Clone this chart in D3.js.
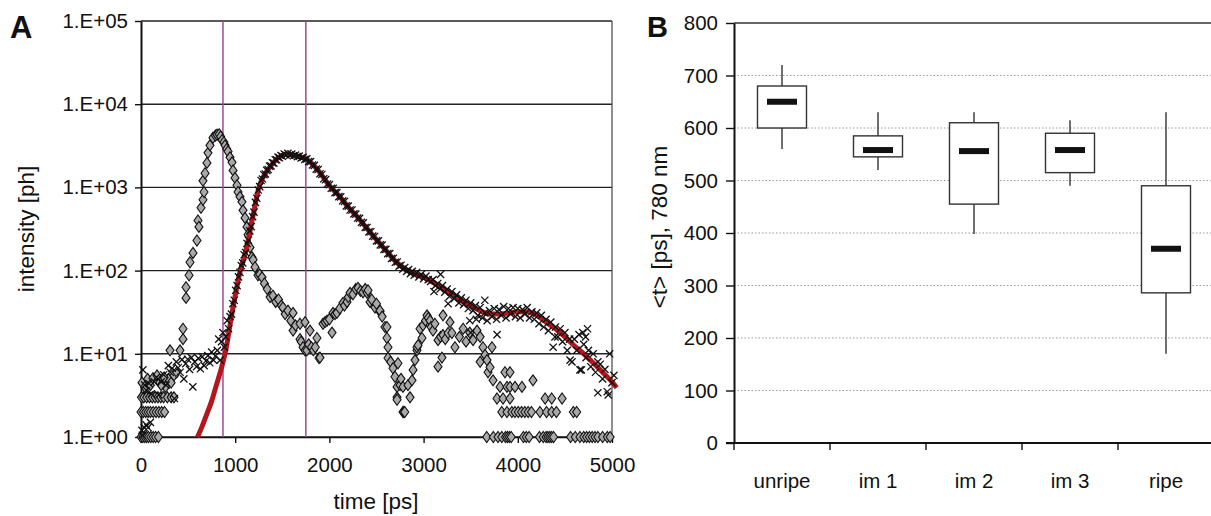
<!DOCTYPE html>
<html><head><meta charset="utf-8">
<script src="https://cdn.jsdelivr.net/npm/d3@7"></script>
<style>
html,body{margin:0;padding:0;background:#fff;}
svg{display:block;font-family:"Liberation Sans",Arial,sans-serif;}
</style></head>
<body>
<svg id="chart" width="1211" height="516"></svg>
<script>
// ---------- Panel A data ----------
const yTicksA = [1, 10, 100, 1000, 10000, 100000];
const yTickLabelsA = ["1.E+00", "1.E+01", "1.E+02", "1.E+03", "1.E+04", "1.E+05"];
const xTicksA = [0, 1000, 2000, 3000, 4000, 5000];
const markerTimes = [870, 1750];

// instrument response (grey diamonds): [time ps, photons]
const irf = [
[0,1],[20,1],[40,1],[60,1],[80,1],[105,1],[130,1],[155,1],[185,1],
[0,2],[25,2],[50,2],[75,2],[100,2],[130,2],[160,2],[190,2],[220,2],[250,2],
[5,3],[30,3],[60,3],[90,3],[120,3],[150,3],[180,3],[210,3],[240,3],[280,3],[320,3],[350,3],
[10,4.5],[40,4],[70,5],[100,4.2],[127,5.1],[170,5.5],[200,4.5],[230,5],[260,4],[290,5],[320,4.5],[350,5.5],[380,6],[215,4.2],[245,5.2],
[308,11],[414,11],[446,15],[446,20],[478,47],[478,63],[510,88],[520,126],[552,163],[594,230],[605,400],[615,335],[637,570],[658,710],[669,880],[658,1200],[680,1480],[700,1970],[711,2600],[732,3200],[764,3950],[790,4200],[807,4300],[830,4350],[845,4100],
[860,3700],[880,3500],[892,3200],[910,2900],[924,2700],[945,2300],[966,2000],[977,1600],[998,1300],[1019,1060],[1030,880],[1051,770],[1072,670],[1083,530],[1104,430],[1125,335],[1136,270],[1157,190],[1178,145],[1190,135],[1210,110],[1242,88],[1260,90],[1285,83],[1310,70],[1340,60],[1370,48],[1400,50],[1430,42],[1460,45],[1490,38],[1507,36],[1530,30],[1560,33],[1590,25],[1614,19],[1614,31],[1640,22],[1688,23],[1688,15],[1700,14],[1720,12],[1741,11],[1741,24],[1760,11],[1780,13],[1794,19],[1810,12],[1830,11],[1850,12],[1868,15.5],[1890,8.9],[1900,9],
[1932,23],[1953,24],[1974,25],[2000,26],[2028,18],[2038,31],[2060,30],[2080,31],[2110,35],[2144,41],[2160,38],[2187,42],[2200,48],[2219,54],[2250,52],[2280,60],[2304,62],[2330,57],[2357,55],[2380,60],[2400,54],[2410,58],[2431,42],[2450,45],[2484,36],[2500,40],[2537,32],[2537,33],[2560,28],[2590,21],[2611,15.5],[2611,21],[2622,12],[2622,8.9],[2650,8],[2675,6.7],[2696,5.3],[2718,4],[2718,3],[2718,2.8],[2728,7.7],[2750,4.2],[2760,5],[2781,4],[2781,2],[2790,2],[2800,2],[2834,4.2],[2856,3],[2877,4.8],[2888,6.4],[2909,8.4],[2930,11],[2930,12],[2941,12.7],[2962,20],[2983,15.5],[2994,22],
[3020,25],[3036,29],[3050,27],[3068,25],[3080,21],[3100,19],[3120,23],[3153,14.6],[3153,7],[3180,16],[3195,9],[3206,16.8],[3206,29],[3230,15],[3260,17.8],[3280,24],[3300,17.8],[3333,12],[3380,16],[3420,20],[3450,14],[3490,18],[3525,14.6],[3567,19],[3600,16],[3600,8],[3630,12],[3652,9.7],[3673,8.4],[3684,6],[3705,6.9],[3726,12],[3737,4.8],[3779,2.9],[3811,4],[3843,2.9],[3864,6],[3885,4],[3917,4],[3917,2.9],[3917,6],[3970,4],[4044,4],[4161,4.8],[4290,2.9],[4360,2.9],[4470,2.9],
[3830,2],[3885,2],[3937,2],[3970,2],[4005,2],[4040,2],[4075,2],[4110,2],[4145,2],[4235,2],[4305,2],[4360,2],[4410,2],[4590,2],[4625,2],
[3670,1],[3740,1],[3790,1],[3830,1],[3870,1],[3890,1],[3910,1],[3930,1],[4060,1],[4090,1],[4120,1],[4230,1],[4270,1],[4300,1],[4320,1],[4340,1],[4360,1],[4380,1],[4560,1],[4610,1],[4660,1],[4700,1],[4730,1],[4760,1],[4790,1],[4820,1],[4850,1],[4900,1],[4950,1],[4980,1]
];

// measured fluorescence decay (black crosses): [time ps, photons]
const measured = [
[10,1.2],[35,1.3],[55,1.4],[75,1.3],[100,1.5],[15,1.05],[20,6.4],[40,4.2],[60,3.6],[85,4.4],[110,3.3],[140,4.6],[165,5.2],[190,3.2],[215,4.6],[240,5.6],[265,4.2],[290,7.2],[310,6],[330,6.7],[355,2.9],[375,8],[395,6.8],[415,6],[435,8.5],[455,5],[475,7.6],[495,8.6],[515,6.5],[535,9],[550,4],[570,8],[590,7],[610,8.8],[630,6.6],[650,9.2],[670,7.2],[690,8.2],[710,9.5],[730,7.8],[750,10.5],[770,8.4],[790,9.4],[810,11],[825,15],[840,8.4],[855,14],[870,18],[885,12],[900,16],[915,25],[930,20],[945,28],
[960,30],[975,40],[990,44],[1005,58],[1020,66],[1035,84],[1050,95],[1065,115],[1080,124],[1095,155],[1110,165],[1125,212],[1140,232],[1155,300],[1170,338],[1185,445],[1200,505],[1215,660],[1230,740],[1245,930],[1260,1020],[1275,1210],[1290,1260],[1305,1420],[1320,1450],[1335,1600],[1350,1640],[1365,1800],[1380,1810],[1395,1980],[1410,1960],[1425,2150],[1440,2150],[1455,2310],[1470,2270],[1485,2420],[1500,2370],[1520,2520],[1540,2450],[1560,2570],[1580,2440],[1600,2510],[1620,2400],[1640,2450],[1660,2340],[1680,2380],[1700,2260],[1720,2300],[1740,2170],[1760,2200],[1780,2040],[1800,2040],[1820,1860],[1840,1840],[1860,1660],[1880,1640],[1900,1460],[1920,1430],[1940,1270],[1960,1240],[1980,1100],[2000,1080],[2020,975],[2040,975],[2060,865],[2080,865],[2100,775],[2120,770],[2140,690],[2160,680],[2180,600],[2200,595],[2220,535],[2240,535],[2260,480],[2280,478],[2300,428],[2320,425],[2340,380],[2360,375],[2380,330],[2400,330],[2420,292],[2440,293],[2460,260],[2480,257],[2500,228],[2520,228],[2540,204],[2560,203],[2580,180],[2600,180],[2620,160],[2640,160],[2660,140],[2680,141],[2700,126],[2720,127],[2740,113],[2760,116],[2780,104],[2800,109],[2820,98],[2840,103],[2860,92],[2880,98],[2900,88],[2925,95],[2950,84],[2975,90],[3000,80],
[3025,86],[3050,78],[3075,74],[3100,78],[3125,66],[3150,70],[3175,60],[3200,66],[3225,55],[3250,60],[3275,49],[3300,56],[3325,46],[3350,51],[3375,41],[3400,47],[3425,39],[3450,44],[3475,35],[3500,41],[3525,33],[3550,38],[3575,29],[3600,36],[3625,27],[3650,31],[3675,25],[3700,33],[3725,28],[3750,35],[3775,26],[3800,34],[3825,29],[3850,37],[3875,27],[3900,35],[3925,30],[3950,36],[3975,28],[4000,35],[4025,27],[4050,34],[4075,30],[4100,36],[4125,27],[4150,32],[4175,26],[4200,31],[4225,23],[4250,29],[4275,21],[4300,26],[4325,19],[4350,24],[4375,12],[4400,21],[4425,16],[4450,20],[4475,14],[4500,18],[4525,11],[4550,15],[4575,8],[4600,15],[4625,11],[4650,17],[4675,6.4],[4700,13],[4725,9],[4750,11],[4775,7],[4800,10],[4825,6],[4850,3.4],[4875,7.5],[4900,5],[4925,6.5],[4950,3.5],[4975,10],[5000,4.5],[5020,5.5],
[3110,56],[3180,90],[3260,40],[3490,25],[3500,18],[3780,17],[3560,26],[3650,44],[4395,16],[4555,8.4],[4660,6.4],[4690,18],[4720,16],[4740,20],[4850,8],[4960,3.2]
];

// fitted decay (red line): [time ps, photons]
const fit = [
[600,1],[650,1.35],[700,1.9],[750,2.7],[800,4.2],[850,6.5],[880,8.8],[900,11],[925,16],[950,24],[975,35],[1000,50],[1025,70],[1050,95],[1075,120],[1100,150],[1125,200],[1150,270],[1175,380],[1200,520],[1225,740],[1250,980],[1275,1180],[1300,1350],[1350,1650],[1400,1950],[1450,2250],[1500,2420],[1550,2500],[1600,2460],[1650,2390],[1700,2300],[1750,2200],[1800,2000],[1850,1750],[1900,1500],[1950,1250],[2000,1050],[2100,800],[2200,580],[2300,440],[2400,320],[2500,235],[2600,175],[2700,130],[2800,105],[2900,92],[3000,84],[3100,72],[3200,62],[3300,52],[3400,44],[3500,38],[3600,33],[3700,30],[3800,30],[3900,31],[4000,32],[4100,32],[4200,29],[4300,24],[4400,20],[4500,16],[4600,12.5],[4700,10],[4800,7.8],[4900,6],[5000,4.6],[5050,3.9]
];

// ---------- Panel B data ----------
const categories = ["unripe", "im 1", "im 2", "im 3", "ripe"];
const whiskerLow  = [560, 520, 398, 490, 170];
const boxLow      = [600, 545, 455, 515, 286];
const medians     = [650, 558, 556, 558, 370];
const boxHigh     = [680, 585, 610, 590, 490];
const whiskerHigh = [720, 630, 630, 615, 630];
const yTicksB = [0, 100, 200, 300, 400, 500, 600, 700, 800];

const svg = d3.select("#chart");
svg.append("rect").attr("width", 1211).attr("height", 516).attr("fill", "#fff");

// ================= Panel A =================
const xA = d3.scaleLinear().domain([0, 5000]).range([141, 612]);
const yA = d3.scaleLog().domain([1, 100000]).range([437, 21]);
const gA = svg.append("g");

gA.selectAll("line.grid").data(yTicksA).join("line")
  .attr("x1", 141).attr("x2", 612)
  .attr("y1", d => yA(d)).attr("y2", d => yA(d))
  .attr("stroke", "#222").attr("stroke-width", 1.4);
gA.append("line").attr("x1", 612).attr("x2", 612).attr("y1", 21).attr("y2", 437)
  .attr("stroke", "#444").attr("stroke-width", 1.2);

const axYA = gA.append("g").attr("transform", "translate(141,0)")
  .call(d3.axisLeft(yA).tickValues(yTicksA).tickFormat((d, i) => yTickLabelsA[i]).tickSize(6).tickSizeOuter(0).tickPadding(7));
axYA.select(".domain").attr("stroke", "#111").attr("stroke-width", 2);
axYA.selectAll(".tick line").attr("stroke", "#111").attr("stroke-width", 1.4);
axYA.selectAll("text").attr("font-size", 20.5).attr("fill", "#111").attr("font-family", "Liberation Sans, Arial, sans-serif");

const axXA = gA.append("g").attr("transform", "translate(0,437)")
  .call(d3.axisBottom(xA).tickValues(xTicksA).tickFormat(d3.format("d")).tickSize(6).tickSizeOuter(0).tickPadding(14));
axXA.select(".domain").attr("stroke", "#111").attr("stroke-width", 1.4);
axXA.selectAll(".tick line").attr("stroke", "#111").attr("stroke-width", 1.4);
axXA.selectAll("text").attr("font-size", 20.5).attr("fill", "#111").attr("font-family", "Liberation Sans, Arial, sans-serif");

gA.selectAll("line.mark").data(markerTimes).join("line")
  .attr("x1", d => xA(d)).attr("x2", d => xA(d)).attr("y1", 21).attr("y2", 437)
  .attr("stroke", "#9c4a96").attr("stroke-width", 1.5);

const diamond = "M0,-5.5L4,0L0,5.5L-4,0Z";
gA.append("g").selectAll("path").data(irf).join("path")
  .attr("d", diamond)
  .attr("transform", d => `translate(${xA(d[0])},${yA(d[1])})`)
  .attr("fill", "#a9a9a9").attr("stroke", "#111").attr("stroke-width", 1.1);

gA.append("path").datum(fit)
  .attr("d", d3.line().x(d => xA(d[0])).y(d => yA(d[1])).curve(d3.curveMonotoneX))
  .attr("fill", "none").attr("stroke", "#b3161d").attr("stroke-width", 5).attr("stroke-linejoin", "round");

const cross = "M-3.6,-3.6L3.6,3.6M-3.6,3.6L3.6,-3.6";
gA.append("g").selectAll("path").data(measured).join("path")
  .attr("d", cross)
  .attr("transform", d => `translate(${xA(d[0])},${yA(d[1])})`)
  .attr("fill", "none").attr("stroke", "#111").attr("stroke-width", 1.3);

svg.append("text").attr("x", 10).attr("y", 38).attr("font-size", 31).attr("font-weight", "bold").attr("fill", "#111").text("A");
svg.append("text").attr("transform", "translate(34,229) rotate(-90)").attr("text-anchor", "middle")
  .attr("font-size", 22.5).attr("fill", "#111").text("intensity [ph]");
svg.append("text").attr("x", 376).attr("y", 509).attr("text-anchor", "middle")
  .attr("font-size", 22.5).attr("fill", "#111").text("time [ps]");

// ================= Panel B =================
const xB = d3.scaleBand().domain(categories).range([734, 1214]);
const yB = d3.scaleLinear().domain([0, 800]).range([443, 23]);
const gB = svg.append("g");

gB.selectAll("line.grid").data(yTicksB.filter(d => d > 0 && d < 800)).join("line")
  .attr("x1", 734).attr("x2", 1211)
  .attr("y1", d => yB(d)).attr("y2", d => yB(d))
  .attr("stroke", "#999").attr("stroke-width", 1).attr("stroke-dasharray", "1.5,2");
gB.append("line").attr("x1", 734).attr("x2", 1211).attr("y1", yB(800)).attr("y2", yB(800))
  .attr("stroke", "#333").attr("stroke-width", 1.6);

const axYB = gB.append("g").attr("transform", "translate(734,0)")
  .call(d3.axisLeft(yB).tickValues(yTicksB).tickFormat(d3.format("d")).tickSize(8).tickSizeOuter(0).tickPadding(8));
axYB.select(".domain").attr("stroke", "#111").attr("stroke-width", 2);
axYB.selectAll(".tick line").attr("stroke", "#111").attr("stroke-width", 1.4);
axYB.selectAll("text").attr("font-size", 20.5).attr("fill", "#111").attr("font-family", "Liberation Sans, Arial, sans-serif");

gB.append("line").attr("x1", 726).attr("x2", 1211).attr("y1", yB(0)).attr("y2", yB(0))
  .attr("stroke", "#111").attr("stroke-width", 1.8);
gB.selectAll("line.xt").data(categories).join("line")
  .attr("x1", d => xB(d)).attr("x2", d => xB(d))
  .attr("y1", yB(0)).attr("y2", yB(0) + 7)
  .attr("stroke", "#111").attr("stroke-width", 1.4);
gB.selectAll("text.cat").data(categories).join("text")
  .attr("x", d => xB(d) + xB.bandwidth() / 2).attr("y", 488)
  .attr("text-anchor", "middle").attr("font-size", 20.5).attr("fill", "#111").text(d => d);

const boxW = 49, medW = 30;
categories.forEach((c, i) => {
  const cx = xB(c) + xB.bandwidth() / 2;
  gB.append("line").attr("x1", cx).attr("x2", cx).attr("y1", yB(whiskerHigh[i])).attr("y2", yB(boxHigh[i]))
    .attr("stroke", "#222").attr("stroke-width", 1.3);
  gB.append("line").attr("x1", cx).attr("x2", cx).attr("y1", yB(boxLow[i])).attr("y2", yB(whiskerLow[i]))
    .attr("stroke", "#222").attr("stroke-width", 1.3);
  gB.append("rect").attr("x", cx - boxW / 2).attr("y", yB(boxHigh[i]))
    .attr("width", boxW).attr("height", yB(boxLow[i]) - yB(boxHigh[i]))
    .attr("fill", "#fff").attr("stroke", "#333").attr("stroke-width", 1.4);
  gB.append("rect").attr("x", cx - medW / 2).attr("y", yB(medians[i]) - 3)
    .attr("width", medW).attr("height", 6).attr("fill", "#111");
});

svg.append("text").attr("x", 647).attr("y", 37).attr("font-size", 29).attr("font-weight", "bold").attr("fill", "#111").text("B");
svg.append("text").attr("transform", "translate(667,227) rotate(-90)").attr("text-anchor", "middle")
  .attr("font-size", 22.5).attr("fill", "#111").text("<t> [ps], 780 nm");
</script>
</body></html>
